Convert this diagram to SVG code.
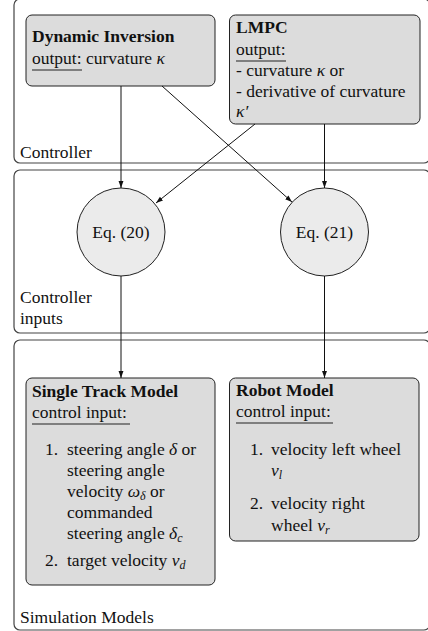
<svg xmlns="http://www.w3.org/2000/svg" width="428" height="631" viewBox="0 0 428 631">
<style>
text{font-family:'Liberation Serif','Times New Roman',Times,'DejaVu Serif',serif;font-size:17.5px;fill:#111}
.b{font-weight:bold}
.i{font-style:italic}
.sub{font-style:italic;font-size:12px}
.cont{fill:none;stroke:#444;stroke-width:1.2}
.box{fill:#dcdcdc;stroke:#222;stroke-width:1}
.circ{fill:#ebebeb;stroke:#222;stroke-width:1}
.ul{stroke:#222;stroke-width:1}
.edge{stroke:#111;stroke-width:1;fill:none;marker-end:url(#ah)}
</style>
<defs>
<marker id="ah" viewBox="0 0 10 10" refX="10" refY="5" markerWidth="7" markerHeight="7" markerUnits="userSpaceOnUse" orient="auto">
<path d="M0,1.5 L10,5 L0,8.5 z" fill="#111"/>
</marker>
</defs>
<g id="container-controller">
<rect class="cont" x="14" y="-1" width="416" height="164" rx="6"/>
<text x="20" y="158">Controller</text>
</g>
<g id="container-inputs">
<rect class="cont" x="14" y="170" width="416" height="163" rx="6"/>
<text x="20" y="303">Controller</text>
<text x="20" y="324">inputs</text>
</g>
<g id="container-sim">
<rect class="cont" x="14" y="340" width="416" height="290" rx="6"/>
<text x="20" y="623">Simulation Models</text>
</g>
<g id="node-di">
<rect class="box" x="26" y="15" width="189" height="71" rx="6"/>
<text class="b" x="32" y="42">Dynamic Inversion</text>
<text x="32" y="64">output: curvature <tspan class="i">κ</tspan></text>
<line class="ul" x1="32" y1="70" x2="82" y2="70"/>
</g>
<g id="node-lmpc">
<rect class="box" x="229.5" y="15" width="190.5" height="109" rx="6"/>
<text class="b" x="236" y="33">LMPC</text>
<text x="236" y="55">output:</text>
<line class="ul" x1="236" y1="61" x2="286" y2="61"/>
<text x="236" y="76">- curvature <tspan class="i">κ</tspan> or</text>
<text x="236" y="97">- derivative of curvature</text>
<text class="i" x="236" y="117">κ′</text>
</g>
<g id="node-eq20">
<circle class="circ" cx="121" cy="232" r="44"/>
<text x="121" y="238" text-anchor="middle">Eq. (20)</text>
</g>
<g id="node-eq21">
<circle class="circ" cx="324.5" cy="232" r="44"/>
<text x="324.5" y="238" text-anchor="middle">Eq. (21)</text>
</g>
<g id="node-single">
<rect class="box" x="26" y="378" width="189" height="207" rx="6"/>
<text class="b" x="32" y="397">Single Track Model</text>
<text x="32" y="418">control input:</text>
<line class="ul" x1="32" y1="424" x2="130" y2="424"/>
<text x="45" y="455">1.</text>
<text x="67" y="455">steering angle <tspan class="i">δ</tspan> or</text>
<text x="67" y="476">steering angle</text>
<text x="67" y="497">velocity <tspan class="i">ω</tspan><tspan class="sub" dy="3">δ</tspan><tspan dy="-3"> or</tspan></text>
<text x="67" y="518">commanded</text>
<text x="67" y="539">steering angle <tspan class="i">δ</tspan><tspan class="sub" dy="3">c</tspan></text>
<text x="45" y="566">2.</text>
<text x="67" y="566">target velocity <tspan class="i">v</tspan><tspan class="sub" dy="3">d</tspan></text>
</g>
<g id="node-robot">
<rect class="box" x="229.5" y="378" width="189.5" height="163" rx="6"/>
<text class="b" x="236" y="396">Robot Model</text>
<text x="236" y="417">control input:</text>
<line class="ul" x1="236" y1="423" x2="333" y2="423"/>
<text x="250" y="455">1.</text>
<text x="271" y="455">velocity left wheel</text>
<text class="i" x="271" y="476">v<tspan class="sub" dy="3">l</tspan></text>
<text x="250" y="509">2.</text>
<text x="271" y="509">velocity right</text>
<text x="271" y="531">wheel <tspan class="i">v</tspan><tspan class="sub" dy="3">r</tspan></text>
</g>
<g id="connectors">
<line class="edge" x1="121" y1="86" x2="121" y2="188"/>
<line class="edge" x1="162" y1="86" x2="292" y2="202"/>
<line class="edge" x1="324.5" y1="124" x2="324.5" y2="188"/>
<line class="edge" x1="255" y1="124" x2="156" y2="203"/>
<line class="edge" x1="121" y1="276" x2="121" y2="378"/>
<line class="edge" x1="324.5" y1="276" x2="324.5" y2="378"/>
</g>
</svg>
